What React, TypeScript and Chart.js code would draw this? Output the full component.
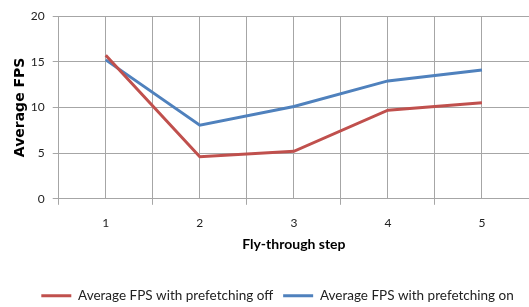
import React, { useEffect, useRef } from "react";
import { Chart, registerables } from "chart.js";

Chart.register(...registerables);

const categories = ["1", "2", "3", "4", "5"];
const seriesOffLabel = "Average FPS with prefetching off";
const seriesOnLabel = "Average FPS with prefetching on";
const fpsOff = [15.7, 4.6, 5.2, 9.7, 10.5];
const fpsOn = [15.2, 8.05, 10.1, 12.9, 14.1];
const yTicks = [0, 5, 10, 15, 20];
const xTitle = "Fly-through step";
const yTitle = "Average FPS";

const GRID = "#a6a6a6";
const TEXT = "#222222";

export default function App() {
  const ref = useRef<HTMLCanvasElement | null>(null);

  useEffect(() => {
    document.body.style.margin = "0";
    const canvas = ref.current;
    if (!canvas) return;
    const toPts = (vals: number[]) =>
      categories.map((c, i) => ({ x: Number(c), y: vals[i] }));
    const chart = new Chart(canvas, {
      type: "line",
      data: {
        datasets: [
          {
            label: seriesOffLabel,
            data: toPts(fpsOff),
            borderColor: "#c0504d",
            backgroundColor: "#c0504d",
            borderWidth: 3,
            pointRadius: 0,
            tension: 0,
          },
          {
            label: seriesOnLabel,
            data: toPts(fpsOn),
            borderColor: "#4f81bd",
            backgroundColor: "#4f81bd",
            borderWidth: 3,
            pointRadius: 0,
            tension: 0,
          },
        ],
      },
      options: {
        responsive: false,
        animation: false,
        layout: { padding: { top: 0, left: 4, right: -22, bottom: -5.5 } },
        plugins: {
          tooltip: { enabled: false },
          legend: {
            position: "bottom",
            labels: {
              boxWidth: 30,
              boxHeight: 3,
              padding: 10,
              color: TEXT,
              font: { family: "Lato", size: 13.5 },
              generateLabels: (c: any) =>
                (Chart.defaults.plugins.legend.labels as any)
                  .generateLabels(c)
                  .map((l: any) => ({ ...l, lineWidth: 0 })),
            },
          },
        },
        scales: {
          x: {
            type: "linear",
            min: Number(categories[0]) - 0.5,
            max: Number(categories[categories.length - 1]) + 0.5,
            afterFit: (s: any) => {
              s.paddingRight = -2;
              s.paddingLeft = 0;
            },
            grid: {
              color: GRID,
              tickLength: 6,
              tickColor: (ctx: any) =>
                Number.isInteger(ctx.tick?.value) ? "rgba(0,0,0,0)" : GRID,
            },
            border: { color: GRID },
            ticks: {
              stepSize: 0.5,
              autoSkip: false,
              maxRotation: 0,
              padding: 11,
              color: TEXT,
              font: { family: "Lato", size: 12 },
              callback: (v: any) =>
                Number.isInteger(v) && categories.includes(String(v)) ? String(v) : "",
            },
            title: {
              display: true,
              text: xTitle,
              color: "#000",
              font: { family: "Lato", size: 14, weight: "bold" },
              padding: { top: -5, bottom: 26 },
            },
          },
          y: {
            min: yTicks[0],
            max: yTicks[yTicks.length - 1],
            afterBuildTicks: (axis: any) => {
              axis.ticks = yTicks.map((v) => ({ value: v }));
            },
            afterFit: (s: any) => {
              s.paddingTop = 16;
            },
            grid: { color: GRID, tickLength: 6 },
            border: { color: GRID },
            ticks: {
              padding: 8,
              color: TEXT,
              font: { family: "Lato", size: 12 },
            },
            title: {
              display: true,
              text: yTitle,
              color: "#000",
              font: { family: "DejaVu Sans", size: 14, weight: "bold" },
              padding: { top: 8, bottom: -6 },
            },
          },
        },
      },
    } as any);
    return () => chart.destroy();
  }, []);

  return <canvas ref={ref} width={529} height={307} style={{ display: "block" }} />;
}
